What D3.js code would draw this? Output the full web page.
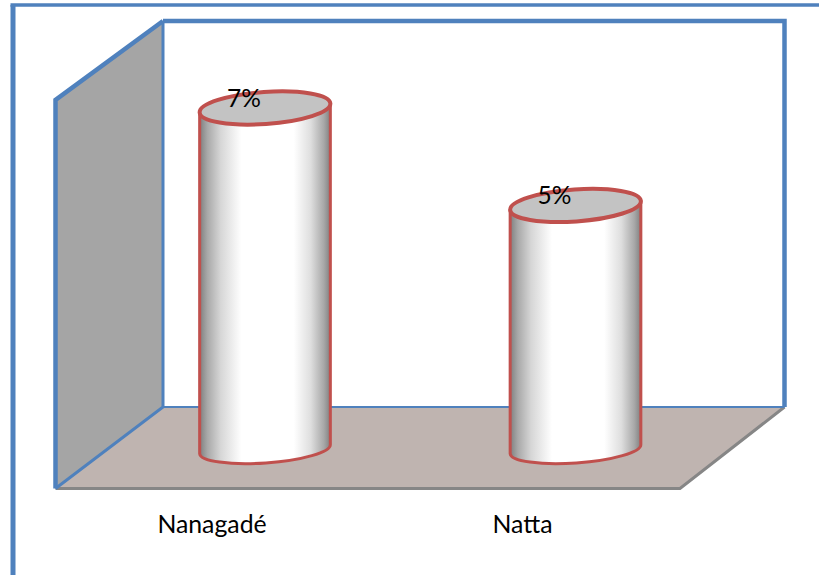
<!DOCTYPE html>
<html>
<head>
<meta charset="utf-8">
<style>
  html, body { margin: 0; padding: 0; background: #fff; overflow: hidden; }
  svg { display: block; }
  text { font-family: "Lato", "Open Sans", sans-serif; fill: #000; }
</style>
<script src="https://cdn.jsdelivr.net/npm/d3@7"></script>
</head>
<body>
<script>
const categories = ["Nanagadé", "Natta"];
const values = [7, 5];
const valueLabels = ["7%", "5%"];

const W = 819, H = 575;
const BLUE = "#4f81bd", RED = "#c0504d", GREY = "#868686";

const svg = d3.select("body").append("svg").attr("width", W).attr("height", H);

const x = d3.scalePoint().domain(categories).range([265, 575.5]);
const y = d3.scaleLinear().domain([0, 7]).range([449, 108]);

// Horizontal shading of the cylinder wall
const grad = svg.append("defs").append("linearGradient").attr("id", "wall")
  .attr("x1", "0%").attr("x2", "100%").attr("y1", "0%").attr("y2", "0%");
[[0, "#7f7f7f"], [0.06, "#a9a9a9"], [0.16, "#d6d6d6"], [0.32, "#ffffff"],
 [0.72, "#ffffff"], [0.85, "#dedede"], [0.95, "#a8a8a8"], [1, "#808080"]]
  .forEach(([o, c]) => grad.append("stop").attr("offset", o).attr("stop-color", c));

const line = d3.line();
const stroke = (pts, color, width) => svg.append("path").attr("d", line(pts))
  .attr("fill", "none").attr("stroke", color).attr("stroke-width", width);

// Outer frame: only its top and left edges fall inside the page
stroke([[13, H], [13, 5]], BLUE, 5);
stroke([[10.5, 5], [W, 5]], BLUE, 3.4);

// 3D plot box
const wallL = 55.5, wallR = 163, boxTop = 21, backBottom = 407, frontTop = 100, frontBottom = 488.5,
      backRight = 784.5, floorRight = 680;

svg.append("path")
  .attr("d", line([[wallL, frontTop], [wallR, boxTop], [wallR, backBottom], [wallL, frontBottom]]) + "Z")
  .attr("fill", "#a5a5a5");
svg.append("path")
  .attr("d", line([[wallL, frontBottom], [wallR, backBottom], [backRight, backBottom], [floorRight, frontBottom]]) + "Z")
  .attr("fill", "#bfb4b0");

stroke([[wallL, frontBottom], [floorRight, frontBottom], [backRight, backBottom]], GREY, 3);
stroke([[wallR, backBottom], [backRight, backBottom]], BLUE, 2);
stroke([[wallR, boxTop], [wallR, backBottom], [wallL, frontBottom]], BLUE, 3);
stroke([[wallL, frontBottom], [wallL, frontTop], [wallR, boxTop]], BLUE, 4.5);
stroke([[wallR, boxTop], [backRight, boxTop], [backRight, backBottom]], BLUE, 4.5);

// Cylinders: tilted ellipses joined by a shaded wall
const rx = 65.5, ryTop = 16, ryBase = 14, tilt = -4;
const dy = rx * Math.sin(tilt * Math.PI / 180);
const dx = rx * Math.cos(tilt * Math.PI / 180);

const bars = svg.selectAll("g.bar").data(categories).join("g").attr("class", "bar");

bars.append("path")
  .attr("d", (c, i) => {
    const cx = x(c), yt = y(values[i]), yb = y(0);
    return `M${cx - dx},${yt - dy}L${cx - dx},${yb - dy}` +
           `A${rx},${ryBase} ${tilt} 0 0 ${cx + dx},${yb + dy}L${cx + dx},${yt + dy}Z`;
  })
  .attr("fill", "url(#wall)").attr("stroke", RED).attr("stroke-width", 3).attr("stroke-linejoin", "round");

bars.append("ellipse")
  .attr("cx", 0).attr("cy", 0).attr("rx", rx).attr("ry", ryTop)
  .attr("transform", (c, i) => `translate(${x(c)},${y(values[i])}) rotate(${tilt})`)
  .attr("fill", "#c3c3c3").attr("stroke", RED).attr("stroke-width", 4);

bars.append("text")
  .attr("x", c => x(c) - 21).attr("y", (c, i) => y(values[i]) - 1.5)
  .attr("text-anchor", "middle").attr("font-size", 24.5)
  .text((c, i) => valueLabels[i]);

bars.append("text")
  .attr("x", c => x(c) - 53).attr("y", 533)
  .attr("text-anchor", "middle").attr("font-size", 24.8)
  .text(c => c);
</script>
</body>
</html>
